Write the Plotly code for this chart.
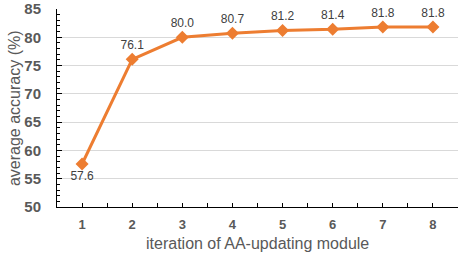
import plotly.graph_objects as go

iterations = [1, 2, 3, 4, 5, 6, 7, 8]
accuracy = [57.6, 76.1, 80.0, 80.7, 81.2, 81.4, 81.8, 81.8]
labels = ["57.6", "76.1", "80.0", "80.7", "81.2", "81.4", "81.8", "81.8"]
label_pos = ["bottom center"] + ["top center"] * 7

font_family = "Liberation Sans, Arial, sans-serif"

fig = go.Figure()
fig.add_trace(go.Scatter(
    x=iterations, y=accuracy,
    mode="lines+markers+text",
    line=dict(color="#ED7D31", width=3),
    marker=dict(symbol="diamond", size=10, color="#ED7D31"),
    text=labels, textposition=label_pos,
    textfont=dict(size=12, color="#404040", family=font_family),
    cliponaxis=False,
    showlegend=False,
))

fig.update_layout(
    width=463, height=261,
    margin=dict(l=57, r=5, t=9, b=54, autoexpand=False),
    paper_bgcolor="white", plot_bgcolor="white",
    font=dict(family=font_family, color="#595959"),
    annotations=[
        dict(text="iteration of AA-updating module", xref="paper", yref="paper",
             x=0.5, y=-0.182, xanchor="center", yanchor="middle", showarrow=False,
             font=dict(size=16, color="#595959", family=font_family)),
        dict(text="average accuracy (%)", xref="paper", yref="paper",
             x=-0.107, y=0.5, xanchor="center", yanchor="middle", showarrow=False,
             textangle=-90, font=dict(size=16, color="#595959", family=font_family)),
    ],
)
fig.update_xaxes(
    automargin=False,
    range=[0.5, 8.5], tickvals=iterations, ticktext=[str(i) for i in iterations],
    tickfont=dict(size=13, color="#595959", weight="bold"),
    ticks="inside", ticklen=4, tickcolor="#000000",
    minor=dict(dtick=0.5, tick0=0.5, ticks="inside", ticklen=4, tickcolor="#000000"),
    showline=True, linecolor="#000000", linewidth=1,
    showgrid=False, zeroline=False,
    ticklabelstandoff=5,
)
fig.update_yaxes(
    automargin=False,
    range=[50, 85], dtick=5, tick0=50,
    tickfont=dict(size=15, color="#595959", weight="bold"),
    ticks="inside", ticklen=5, tickcolor="#000000",
    minor=dict(dtick=1, ticks="inside", ticklen=3, tickcolor="#000000", showgrid=False),
    showline=True, linecolor="#000000", linewidth=1,
    showgrid=True, gridcolor="#D9D9D9", gridwidth=1,
    zeroline=False,
    ticklabelstandoff=12,
)

fig.write_html("out.html", config={"displayModeBar": False},
               post_script="document.body.style.margin='0';")
